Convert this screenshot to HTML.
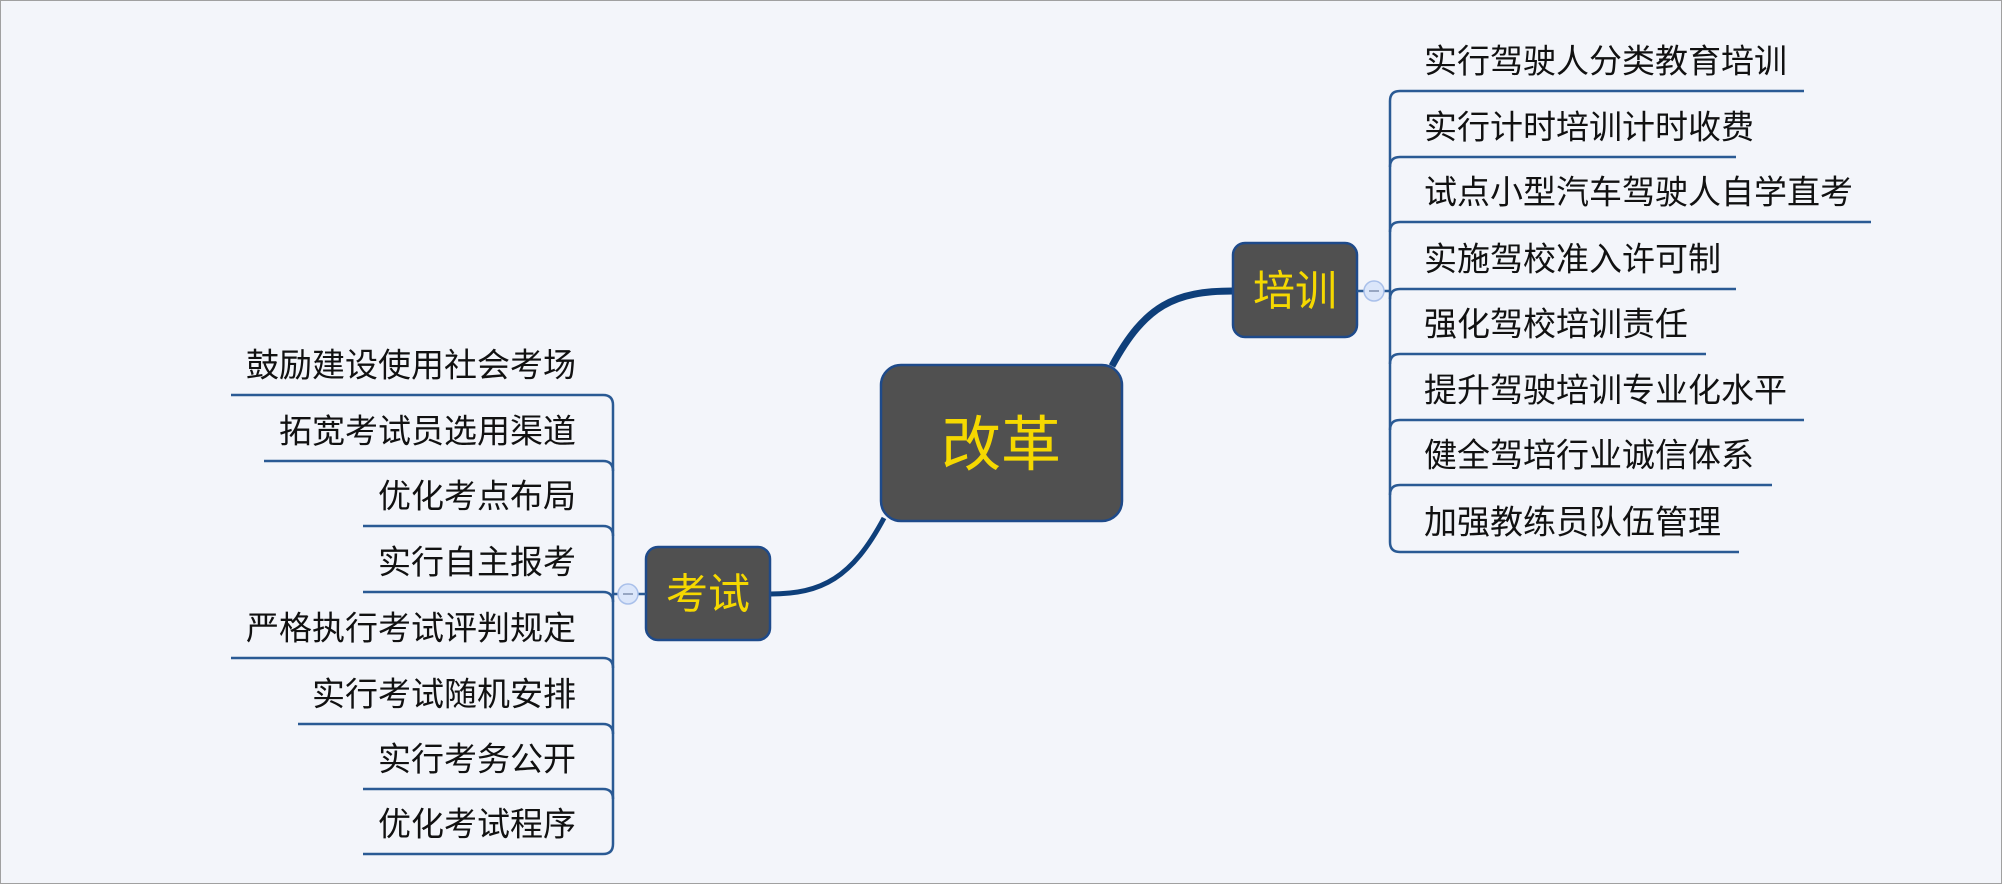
<!DOCTYPE html>
<html><head><meta charset="utf-8"><style>
html,body{margin:0;padding:0;background:#f3f5fa;}
svg{display:block;}
text{font-family:"Liberation Sans","Noto Sans CJK SC",sans-serif;}
</style></head><body>
<svg width="2002" height="884" viewBox="0 0 2002 884" xmlns="http://www.w3.org/2000/svg">
<rect x="0.5" y="0.5" width="2001" height="883" fill="#f3f5fa" stroke="#a0a0a0" stroke-width="1"/>
<path d="M1112,366 C1145,305 1175,291 1233,291" fill="none" stroke="#0e3f7a" stroke-width="7"/>
<path d="M884,518 C852,578 822,594 770,594" fill="none" stroke="#0e3f7a" stroke-width="5"/>
<rect x="881" y="365" width="241" height="156" rx="20" fill="#505050" stroke="#1e4a8a" stroke-width="2.5"/>
<text x="1001" y="445" font-size="60" fill="#f5d800" text-anchor="middle" dominant-baseline="central">改革</text>
<rect x="1233" y="243" width="124" height="94" rx="12" fill="#505050" stroke="#1e4a8a" stroke-width="2.5"/>
<text x="1295" y="291" font-size="42" fill="#f5d800" text-anchor="middle" dominant-baseline="central">培训</text>
<rect x="646" y="547" width="124" height="93" rx="12" fill="#505050" stroke="#1e4a8a" stroke-width="2.5"/>
<text x="708" y="594" font-size="42" fill="#f5d800" text-anchor="middle" dominant-baseline="central">考试</text>
<g fill="none" stroke="#2a5a94" stroke-width="2.5">
<path d="M1390,101 V542"/>
<path d="M1357,291 H1390"/>
<path d="M1390,101 Q1390,91 1400,91 H1804"/>
<path d="M1390,167 Q1390,157 1400,157 H1736"/>
<path d="M1390,232 Q1390,222 1400,222 H1871"/>
<path d="M1390,299 Q1390,289 1400,289 H1736"/>
<path d="M1390,364 Q1390,354 1400,354 H1706"/>
<path d="M1390,430 Q1390,420 1400,420 H1804"/>
<path d="M1390,495 Q1390,485 1400,485 H1772"/>
<path d="M1390,542 Q1390,552 1400,552 H1739"/>
</g>
<circle cx="1374" cy="291" r="10" fill="#dbe6fa" stroke="#a9c0ea" stroke-width="1.5"/>
<line x1="1369" y1="291" x2="1379" y2="291" stroke="#8090b0" stroke-width="1.5"/>
<g font-size="33" fill="#111" dominant-baseline="central">
<text x="1424" y="61">实行驾驶人分类教育培训</text>
<text x="1424" y="127">实行计时培训计时收费</text>
<text x="1424" y="192">试点小型汽车驾驶人自学直考</text>
<text x="1424" y="259">实施驾校准入许可制</text>
<text x="1424" y="324">强化驾校培训责任</text>
<text x="1424" y="390">提升驾驶培训专业化水平</text>
<text x="1424" y="455">健全驾培行业诚信体系</text>
<text x="1424" y="522">加强教练员队伍管理</text>
</g>
<g fill="none" stroke="#2a5a94" stroke-width="2.5">
<path d="M613,405 V844"/>
<path d="M646,594 H613"/>
<path d="M613,405 Q613,395 603,395 H231"/>
<path d="M613,471 Q613,461 603,461 H264"/>
<path d="M613,536 Q613,526 603,526 H363"/>
<path d="M613,602 Q613,592 603,592 H363"/>
<path d="M613,668 Q613,658 603,658 H231"/>
<path d="M613,734 Q613,724 603,724 H298"/>
<path d="M613,799 Q613,789 603,789 H363"/>
<path d="M613,844 Q613,854 603,854 H363"/>
</g>
<circle cx="628" cy="594" r="10" fill="#dbe6fa" stroke="#a9c0ea" stroke-width="1.5"/>
<line x1="623" y1="594" x2="633" y2="594" stroke="#8090b0" stroke-width="1.5"/>
<g font-size="33" fill="#111" dominant-baseline="central" text-anchor="end">
<text x="576" y="365">鼓励建设使用社会考场</text>
<text x="576" y="431">拓宽考试员选用渠道</text>
<text x="576" y="496">优化考点布局</text>
<text x="576" y="562">实行自主报考</text>
<text x="576" y="628">严格执行考试评判规定</text>
<text x="576" y="694">实行考试随机安排</text>
<text x="576" y="759">实行考务公开</text>
<text x="576" y="824">优化考试程序</text>
</g>
</svg>
</body></html>
